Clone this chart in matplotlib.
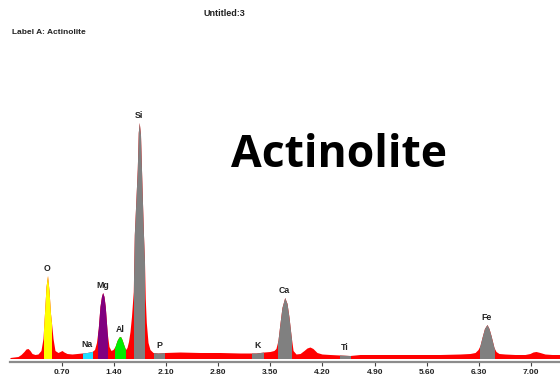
import numpy as np
import matplotlib
matplotlib.use("Agg")
import matplotlib.pyplot as plt
from matplotlib.patches import Rectangle

# Spectrum (energy in keV, counts in arbitrary units)
energy = [0.005, 0.059, 0.113, 0.153, 0.193, 0.220, 0.247, 0.274, 0.301, 0.341,
          0.381, 0.421, 0.448, 0.468, 0.489, 0.509, 0.529, 0.549, 0.562, 0.583,
          0.609, 0.650, 0.677, 0.703, 0.730, 0.770, 0.838, 0.905, 0.972, 1.039,
          1.106, 1.140, 1.166, 1.190, 1.213, 1.233, 1.249, 1.267, 1.284, 1.311,
          1.334, 1.361, 1.388, 1.415, 1.442, 1.468, 1.489, 1.509, 1.536, 1.556,
          1.576, 1.596, 1.616, 1.636, 1.660, 1.674, 1.693, 1.714, 1.727, 1.740,
          1.757, 1.770, 1.784, 1.797, 1.811, 1.821, 1.835, 1.858, 1.884, 1.925,
          1.992, 2.086, 2.287, 2.556, 2.824, 3.097, 3.307, 3.415, 3.495, 3.548,
          3.575, 3.602, 3.629, 3.656, 3.693, 3.724, 3.751, 3.778, 3.805, 3.845,
          3.899, 3.952, 3.992, 4.032, 4.072, 4.126, 4.193, 4.300, 4.434, 4.568,
          4.703, 4.971, 5.240, 5.509, 5.777, 6.046, 6.180, 6.248, 6.288, 6.314,
          6.341, 6.374, 6.408, 6.435, 6.462, 6.502, 6.529, 6.569, 6.649, 6.784,
          6.918, 6.985, 7.025, 7.066, 7.119, 7.186, 7.280, 7.389]
counts = [1, 1.5, 2, 4, 7, 9.5, 10, 8, 5, 4,
          4.5, 8, 20, 45, 72, 83, 68, 45, 36, 20,
          8, 6, 7, 8, 6.5, 5, 4.5, 5, 5.5, 6,
          7, 9, 16, 30, 52, 62, 66, 62, 52, 25,
          12, 8, 9, 12, 18, 21.5, 22, 19, 13, 9,
          11, 17, 27, 42, 67, 124, 155, 190, 226, 236,
          224, 190, 155, 124, 96, 60, 36, 16, 9, 6,
          5.5, 6, 6.5, 6, 6, 5.5, 5.5, 6.5, 7, 8,
          10, 18, 35, 51, 61, 55, 41, 23, 8, 4.5,
          5, 8, 10.5, 11.5, 10, 6, 4.5, 4, 3.5, 3,
          4, 4, 4, 4, 4, 4.5, 5, 6, 9, 13,
          21, 30, 34, 30, 23, 11, 7, 5, 4.5, 4,
          4, 5, 6.5, 7, 6, 4.5, 4, 4]

# Element ROI windows (keV)
elements = ["O", "Na", "Mg", "Al", "Si", "P", "K", "Ca", "Ti", "Fe"]
roi_lo = [0.458, 0.981, 1.190, 1.415, 1.674, 1.938, 3.249, 3.602, 4.435, 6.314]
roi_hi = [0.556, 1.103, 1.311, 1.550, 1.801, 2.072, 3.398, 3.778, 4.569, 6.502]
roi_colors = ["#FFFF00", "#22DDFF", "#800080", "#00EE00", "#808080",
              "#808080", "#808080", "#808080", "#808080", "#808080"]

tick_values = [0.70, 1.40, 2.10, 2.80, 3.50, 4.20, 4.90, 5.60, 6.30, 7.00]

E = np.array(energy)
C = np.array(counts)

fig = plt.figure(figsize=(5.6, 3.78), dpi=100)
W, H = 560.0, 378.0
base_px = 358.5
ylo, yhi = -16, 250
ax = fig.add_axes([9.6 / W, (H - (base_px - ylo)) / H, 550.4 / W, (yhi - ylo) / H])
ax.set_xlim(0, 7.388)
ax.set_ylim(ylo, yhi)

ax.fill_between(E, 0, C, color="#FF0000", linewidth=0)

for name, lo, hi, col in zip(elements, roi_lo, roi_hi, roi_colors):
    poly = ax.fill_between(E, 0, C, color=col, linewidth=0)
    clip = Rectangle((lo, ylo), hi - lo, yhi - ylo, transform=ax.transData)
    poly.set_clip_path(clip)
    mask = (E >= lo - 0.01) & (E <= hi + 0.01)
    top = C[mask].max()
    ax.text((lo + hi) / 2, top + 7, name, ha="center", va="center",
            fontsize=6.3, fontweight="bold", family="Liberation Sans", color="#222222")

for s in ["top", "left", "right"]:
    ax.spines[s].set_visible(False)
ax.spines["bottom"].set_position(("data", -3.2))
ax.spines["bottom"].set_color("#8c8c8c")
ax.spines["bottom"].set_linewidth(1.6)
ax.set_yticks([])
ax.set_xticks(tick_values)
ax.set_xticklabels([f"{v:.2f}" for v in tick_values], fontsize=6,
                   fontweight="bold", family="Liberation Sans", color="#222222")
ax.tick_params(axis="x", direction="out", length=3, width=0.8, color="#444444", pad=2.5)
ax.patch.set_alpha(0)

fig.text(224 / W, 1 - 13 / H, "Untitled:3", ha="center", va="center",
         fontsize=6.5, fontweight="bold", family="Liberation Sans", color="#222222")
fig.text(12 / W, 1 - 33 / H, "Label A: Actinolite", ha="left", va="center",
         fontsize=6, fontweight="bold", family="Liberation Sans", color="#222222")
fig.text(339 / W, 1 - 167 / H, "Actinolite", ha="center", va="baseline",
         fontsize=32, fontweight="bold", family="Open Sans", color="black")

fig.savefig("out.png", dpi=100)
